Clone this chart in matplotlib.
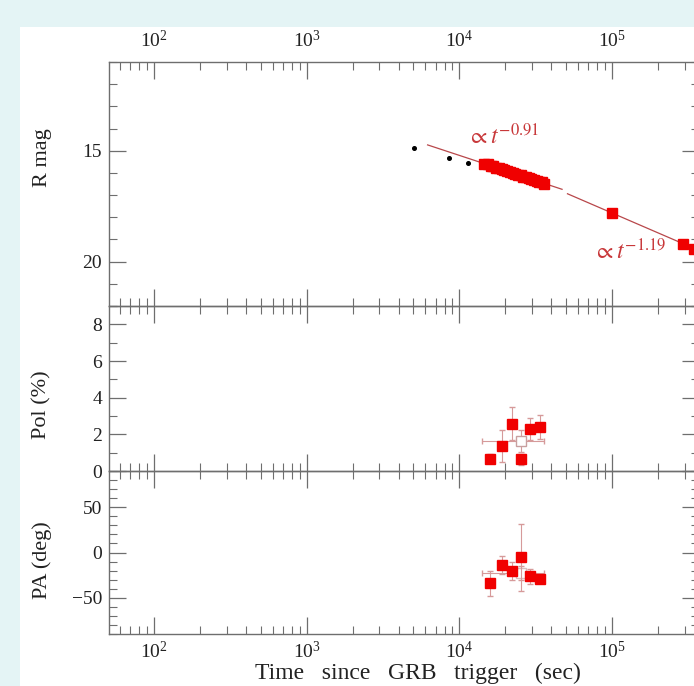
import matplotlib
matplotlib.use('Agg')
import matplotlib.pyplot as plt
import numpy as np
from matplotlib.ticker import LogLocator, MultipleLocator, LogFormatterMathtext, NullFormatter
from matplotlib.patches import Rectangle

plt.rcParams['font.family'] = ['Liberation Serif', 'DejaVu Serif']
plt.rcParams['mathtext.fontset'] = 'stix'

# ---------------- data ----------------
early_t = [5080, 8600, 11460]
early_mag = [14.86, 15.32, 15.54]

dense_t = [14600, 15300, 16000, 16700, 17400, 18100, 18900, 19700, 20500, 21400,
           22300, 23200, 24200, 25200, 26200, 27300, 28400, 29600, 30800, 32000,
           33300, 34600, 35900]
dense_mag = [15.60, 15.62, 15.68, 15.70, 15.76, 15.78, 15.84, 15.87, 15.93, 15.95,
             16.01, 16.03, 16.09, 16.11, 16.17, 16.19, 16.25, 16.27, 16.33, 16.35,
             16.40, 16.42, 16.48]

late_t = [1.0e5, 2.92e5, 3.45e5]
late_mag = [17.81, 19.22, 19.42]

# power-law fits: (index, reference time, mag at reference, start, end)
fit1 = dict(alpha=0.91, tref=1e4, mref=15.21, t0=6200, t1=47000)
fit2 = dict(alpha=1.19, tref=1e5, mref=17.81, t0=51000, t1=4.5e5)
fit_labels = [r'$\propto t^{-0.91}$', r'$\propto t^{-1.19}$']
fit_label_t = [11200, 75200]
fit_label_mag = [14.70, 19.90]

pol_t = [15960, 19000, 22090, 25400, 29100, 33800]
pol = [0.68, 1.36, 2.58, 0.64, 2.31, 2.42]
pol_err = [0.25, 0.85, 0.9, 0.3, 0.6, 0.66]
pa = [-34.1, -13.7, -20.7, -5.2, -26.3, -29.2]
pa_err = [14, 10, 10, 37, 8, 5]

avg_t = 25400
avg_t_lo = 14100
avg_t_hi = 36000
avg_pol = 1.63
avg_pol_err = 0.6
avg_pa = -22.6
avg_pa_err = 8

xlim = (51, 3.7e5)

# ---------------- figure ----------------
W, H = 694, 686
fig = plt.figure(figsize=(W / 100, H / 100), dpi=100, facecolor='#e4f4f5')
bg = Rectangle((20 / W, 0), 1, (H - 27) / H, transform=fig.transFigure,
               facecolor='white', edgecolor='none', zorder=-10)
fig.add_artist(bg)

left_px, right_px = 109, 699
def pos(top, bot):
    return [left_px / W, (H - bot) / H, (right_px - left_px) / W, (bot - top) / H]

ax1 = fig.add_axes(pos(62, 306))
ax2 = fig.add_axes(pos(306, 471))
ax3 = fig.add_axes(pos(471, 634))

axcol = '#6e6e6e'
for ax in (ax1, ax2, ax3):
    ax.set_xscale('log')
    ax.set_xlim(*xlim)
    ax.set_facecolor('none')
    for s in ax.spines.values():
        s.set_color(axcol)
        s.set_linewidth(1.0)
    ax.xaxis.set_major_locator(LogLocator(base=10, numticks=10))
    ax.xaxis.set_minor_locator(LogLocator(base=10, subs=np.arange(2, 10), numticks=20))
    ax.xaxis.set_minor_formatter(NullFormatter())
    ax.tick_params(which='both', direction='in', top=True, right=True, colors=axcol,
                   labelcolor='#222222', labelsize=14)
    ax.tick_params(which='major', length=12, width=0.9)
    ax.tick_params(which='minor', length=6, width=0.8)
    ax.tick_params(axis='y', pad=5)
    ax.tick_params(axis='x', labelbottom=False)

ax1.tick_params(axis='x', labeltop=True, pad=8)
ax1.xaxis.set_major_formatter(LogFormatterMathtext())
ax3.tick_params(axis='x', labelbottom=True, pad=5)
ax3.xaxis.set_major_formatter(LogFormatterMathtext())

# --- R mag panel ---
red = '#f00000'
ax1.set_ylim(22, 11)
ax1.yaxis.set_major_locator(MultipleLocator(5))
ax1.yaxis.set_minor_locator(MultipleLocator(1))
linecol = '#b8474a'
for f in (fit1, fit2):
    tt = np.logspace(np.log10(f['t0']), np.log10(f['t1']), 50)
    ax1.plot(tt, f['mref'] + 2.5 * f['alpha'] * np.log10(tt / f['tref']),
             color=linecol, lw=0.9, zorder=2)
ax1.plot(early_t, early_mag, 'o', color='black', ms=2.6, zorder=3)
ax1.plot(dense_t, dense_mag, 's', color=red, ms=7.6, mec=red, zorder=4)
ax1.plot(late_t, late_mag, 's', color=red, ms=7.6, mec=red, zorder=4)
txtcol = '#c8383a'
for lab, lt, lm in zip(fit_labels, fit_label_t, fit_label_mag):
    ax1.text(lt, lm, lab, color=txtcol, fontsize=17, ha='left', va='baseline')

# --- Pol panel ---
errcol = '#d69a9a'
ax2.set_ylim(0, 9)
ax2.yaxis.set_major_locator(MultipleLocator(2))
ax2.yaxis.set_minor_locator(MultipleLocator(1))
ax2.errorbar(pol_t, pol, yerr=pol_err, fmt='s', color=red, ms=7.0, mec=red,
             ecolor=errcol, elinewidth=0.8, capsize=2, zorder=4)
ax2.errorbar([avg_t], [avg_pol], yerr=[avg_pol_err],
             xerr=[[avg_t - avg_t_lo], [avg_t_hi - avg_t]], fmt='s', mfc='white',
             mec='#c8a0a0', ms=7.0, ecolor=errcol, elinewidth=0.8, capsize=2, zorder=3)

# --- PA panel ---
ax3.set_ylim(-90, 90)
ax3.yaxis.set_major_locator(MultipleLocator(50))
ax3.yaxis.set_minor_locator(MultipleLocator(10))
ax3.errorbar(pol_t, pa, yerr=pa_err, fmt='s', color=red, ms=7.0, mec=red,
             ecolor=errcol, elinewidth=0.8, capsize=2, zorder=4)
ax3.errorbar([avg_t], [avg_pa], yerr=[avg_pa_err],
             xerr=[[avg_t - avg_t_lo], [avg_t_hi - avg_t]], fmt='s', mfc='white',
             mec='#d8c0c0', ms=7.0, ecolor=errcol, elinewidth=0.8, capsize=2, zorder=3)

# --- axis labels ---
labcol = '#222222'
fig.text(42 / W, 1 - 158 / H, 'R mag', rotation=90, ha='center', va='center',
         fontsize=16, color=labcol)
fig.text(42 / W, 1 - 405 / H, 'Pol (%)', rotation=90, ha='center', va='center',
         fontsize=16, color=labcol)
fig.text(42 / W, 1 - 560 / H, 'PA (deg)', rotation=90, ha='center', va='center',
         fontsize=16, color=labcol)
fig.text(418 / W, 1 - 673 / H, 'Time   since   GRB   trigger   (sec)', ha='center',
         va='center', fontsize=17, color=labcol)

fig.savefig('out.png', dpi=100, facecolor=fig.get_facecolor())
